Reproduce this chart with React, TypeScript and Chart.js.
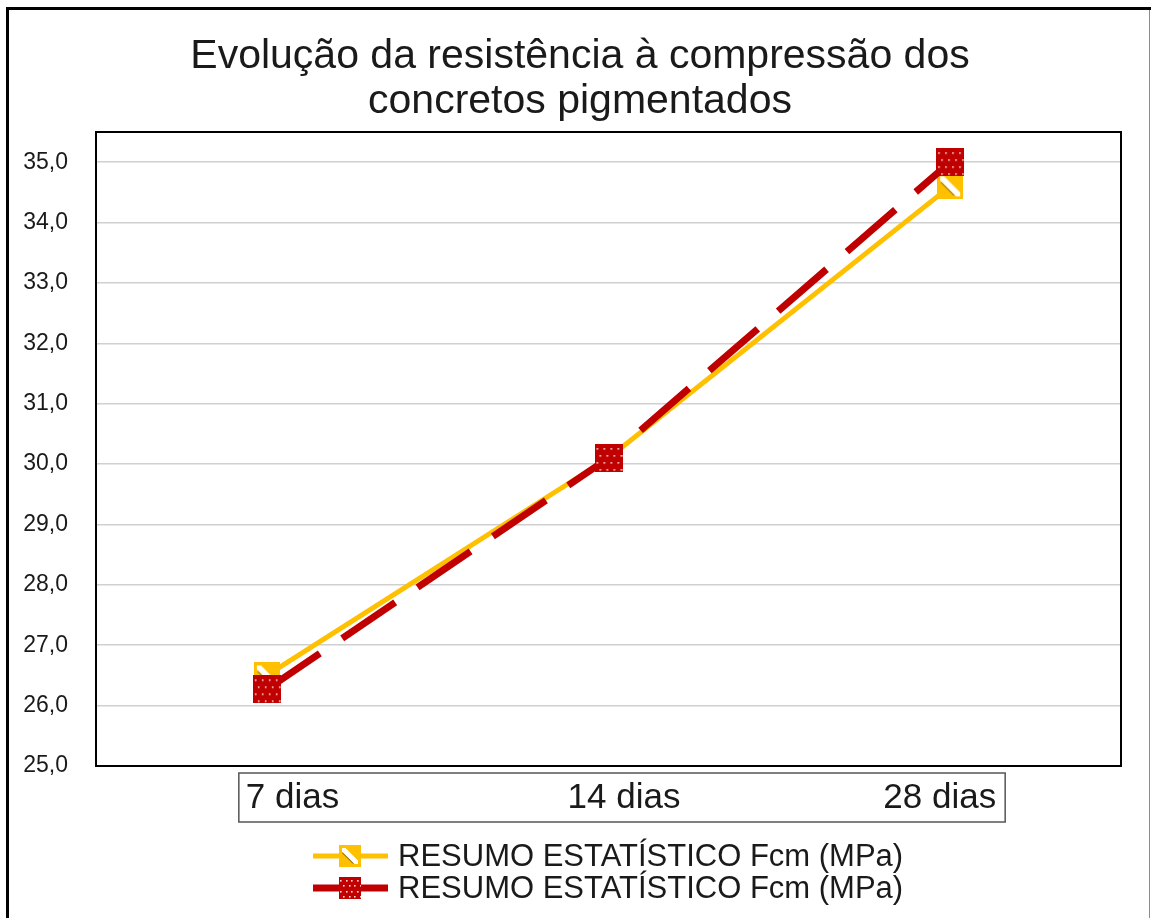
import { useEffect, useRef } from 'react';
import { Chart, registerables } from 'chart.js';

Chart.register(...registerables);

const TITLE_LINES = ['Evolução da resistência à compressão dos', 'concretos pigmentados'];
const CATEGORIES = ['7 dias', '14 dias', '28 dias'];
const SERIES_LABELS = ['RESUMO ESTATÍSTICO Fcm (MPa)', 'RESUMO ESTATÍSTICO Fcm (MPa)'];
const YELLOW_VALUES = [26.5, 30.1, 34.6];
const RED_VALUES = [26.27, 30.1, 35.0];
const Y_MIN = 25;
const Y_MAX = 35.5;
const Y_STEP = 1;

const FONT = '"Liberation Sans", Arial, Helvetica, sans-serif';
const YELLOW = '#FFC000';
const RED = '#C00000';
const W = 1151;
const H = 918;

function makeRedMarker(size: number) {
  const c = document.createElement('canvas');
  c.width = size;
  c.height = size;
  const g = c.getContext('2d')!;
  g.fillStyle = RED;
  g.fillRect(0, 0, size, size);
  g.fillStyle = 'rgba(255,255,255,0.85)';
  const step = size / 4;
  for (let r = 0; r < 4; r++) {
    for (let k = 0; k < 4; k++) {
      const x = step * k + step / 2 + (r % 2 ? step / 4 : -step / 4);
      const y = step * r + step / 2;
      g.fillRect(Math.round(x), Math.round(y), 1.6, 1.6);
    }
  }
  return c;
}

function makeYellowMarker(size: number) {
  const c = document.createElement('canvas');
  c.width = size;
  c.height = size;
  const g = c.getContext('2d')!;
  g.fillStyle = YELLOW;
  g.fillRect(0, 0, size, size);
  g.save();
  g.beginPath();
  g.rect(3, 3, size - 6, size - 6);
  g.clip();
  g.strokeStyle = '#ffffff';
  g.lineWidth = size * 0.22;
  g.beginPath();
  g.moveTo(0, 0);
  g.lineTo(size, size);
  g.stroke();
  g.strokeStyle = 'rgba(60,60,60,0.8)';
  g.lineWidth = 1;
  g.beginPath();
  g.moveTo(size * 0.15, size * 0.35);
  g.lineTo(size * 0.65, size * 0.85);
  g.stroke();
  g.restore();
  return c;
}

export default function App() {
  const ref = useRef<HTMLCanvasElement | null>(null);

  useEffect(() => {
    const canvas = ref.current!;
    const yellowMarker = makeYellowMarker(26);
    const redMarker = makeRedMarker(28);
    const legendMarkers = [makeYellowMarker(22), makeRedMarker(22)];
    const colors = [YELLOW, RED];
    const widths = [5, 7];

    const decor = {
      id: 'decor',
      beforeDraw(chart: any) {
        const ctx = chart.ctx;
        ctx.save();
        ctx.fillStyle = '#ffffff';
        ctx.fillRect(0, 0, chart.width, chart.height);
        ctx.fillStyle = '#000000';
        ctx.fillRect(6, 7, chart.width - 6, 3);
        ctx.fillRect(6, 7, 3, chart.height - 7);
        ctx.fillStyle = '#8c8c8c';
        ctx.fillRect(chart.width - 2, 10, 1, chart.height - 10);
        ctx.fillStyle = '#1a1a1a';
        ctx.font = `41px ${FONT}`;
        ctx.textAlign = 'center';
        ctx.textBaseline = 'middle';
        TITLE_LINES.forEach((t, i) => ctx.fillText(t, 580, 57 + i * 45));
        ctx.restore();
      },
      beforeDatasetsDraw(chart: any) {
        const ctx = chart.ctx;
        const a = chart.chartArea;
        ctx.save();
        ctx.strokeStyle = '#000000';
        ctx.lineWidth = 2;
        ctx.strokeRect(a.left, a.top, a.right - a.left, a.bottom - a.top);
        ctx.restore();
      },
      afterDraw(chart: any) {
        const ctx = chart.ctx;
        const xs = chart.scales.x;
        const a = chart.chartArea;
        ctx.save();
        const first = xs.getPixelForValue(0);
        const last = xs.getPixelForValue(CATEGORIES.length - 1);
        const bl = first - 28;
        const br = last + 55;
        const bt = a.bottom + 7;
        const bb = a.bottom + 56;
        ctx.strokeStyle = '#555555';
        ctx.lineWidth = 1.5;
        ctx.strokeRect(bl, bt, br - bl, bb - bt);
        ctx.fillStyle = '#1a1a1a';
        ctx.font = `35px ${FONT}`;
        ctx.textBaseline = 'middle';
        const cy = (bt + bb) / 2 + 1;
        CATEGORIES.forEach((c, i) => {
          if (i === 0) {
            ctx.textAlign = 'left';
            ctx.fillText(c, bl + 7, cy);
          } else if (i === CATEGORIES.length - 1) {
            ctx.textAlign = 'right';
            ctx.fillText(c, br - 9, cy);
          } else {
            ctx.textAlign = 'center';
            ctx.fillText(c, (bl + br) / 2 + 2, cy);
          }
        });
        ctx.font = `31px ${FONT}`;
        ctx.textAlign = 'left';
        SERIES_LABELS.forEach((lab, i) => {
          const y = 856 + i * 32;
          ctx.strokeStyle = colors[i];
          ctx.lineWidth = widths[i];
          ctx.beginPath();
          ctx.moveTo(313, y);
          ctx.lineTo(388, y);
          ctx.stroke();
          ctx.drawImage(legendMarkers[i], 350 - 11, y - 11, 22, 22);
          ctx.fillStyle = '#1a1a1a';
          ctx.fillText(lab, 398, y + 1);
        });
        ctx.restore();
      },
    };

    const chart = new Chart(canvas, {
      type: 'line',
      data: {
        labels: CATEGORIES,
        datasets: [
          {
            label: SERIES_LABELS[0],
            data: YELLOW_VALUES,
            borderColor: YELLOW,
            backgroundColor: YELLOW,
            borderWidth: 5,
            tension: 0,
            pointStyle: yellowMarker as any,
            pointRadius: 13,
            order: 1,
          },
          {
            label: SERIES_LABELS[1],
            data: RED_VALUES,
            borderColor: RED,
            backgroundColor: RED,
            borderWidth: 7,
            borderDash: [64, 27],
            borderCapStyle: 'butt',
            tension: 0,
            pointStyle: redMarker as any,
            pointRadius: 14,
            order: 0,
          },
        ],
      },
      options: {
        animation: false,
        responsive: false,
        devicePixelRatio: 1,
        layout: { padding: { left: 10, top: 132, right: 30, bottom: 92 } },
        plugins: {
          legend: { display: false },
          title: { display: false },
          tooltip: { enabled: false },
        },
        scales: {
          x: {
            offset: true,
            grid: { display: false, drawTicks: false },
            border: { display: false },
            ticks: { display: false },
            afterFit: (s: any) => {
              s.height = 60;
            },
          },
          y: {
            min: Y_MIN,
            max: Y_MAX,
            grid: { color: '#d0d0d0', lineWidth: 1.5, drawTicks: false },
            border: { display: false },
            ticks: {
              stepSize: Y_STEP,
              padding: 28,
              color: '#1a1a1a',
              font: { family: FONT, size: 23 },
              callback: (v: any) => Number(v).toFixed(1).replace('.', ','),
            },
            afterBuildTicks: (s: any) => {
              s.ticks = s.ticks.filter((t: any) => Number.isInteger(t.value));
            },
            afterFit: (s: any) => {
              s.width = 86;
            },
          },
        },
      },
      plugins: [decor],
    } as any);

    return () => chart.destroy();
  }, []);

  return (
    <canvas
      ref={ref}
      width={W}
      height={H}
      style={{ position: 'absolute', left: 0, top: 0, width: W, height: H }}
    />
  );
}
